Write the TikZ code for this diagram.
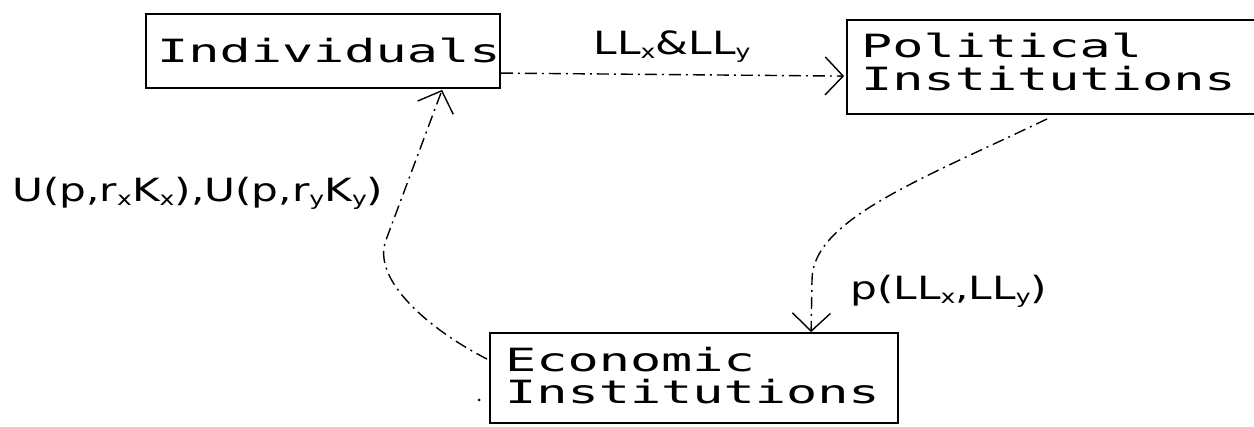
\documentclass[tikz,border=0pt]{standalone}
\usepackage{fontspec}
\usetikzlibrary{arrows.meta,calc}
\newfontfamily\boxfont[FakeStretch=1.62]{DejaVu Sans Mono}
\newfontfamily\labfont[FakeStretch=1.32]{DejaVu Sans}
\newcommand\lsub[1]{\raisebox{-4pt}{\fontsize{19}{19}\selectfont #1}}
\begin{document}
\begin{tikzpicture}[x=1pt,y=-1pt,
  box/.style={draw, line width=1.8pt, inner sep=0pt},
  boxtext/.style={anchor=base west, inner sep=0pt, font={\boxfont\fontsize{32}{32}\selectfont}},
  labtext/.style={anchor=base west, inner sep=0pt, font={\labfont\fontsize{32}{32}\selectfont}},
  link/.style={line width=1.4pt, dash pattern=on 12pt off 5pt on 2pt off 5pt,
    -{Straight Barb[length=18pt,width=38pt,line width=1.4pt]}}]
\fill[white] (0,0) rectangle (1254,427);
\useasboundingbox (0,0) rectangle (1254,427);

\node[box, minimum width=354pt, minimum height=74pt] (ind) at (323,51) {};
\node[box, minimum width=415pt, minimum height=94pt] (pol) at (1054.5,67) {};
\node[box, minimum width=408pt, minimum height=90pt] (eco) at (694,378) {};

\node[boxtext] (indt) at (157,63) {Individuals};
\node[boxtext] (polt1) at (861,58) {Political};
\node[boxtext] (polt2) at (861,91) {Institutions};
\node[boxtext] (ecot1) at (505,372) {Economic};
\node[boxtext] (ecot2) at (505,404) {Institutions};

\node[labtext, anchor=base] (l1) at (672,55) {LL\lsub{x}\&LL\lsub{y}};
\node[labtext] (l2) at (12,202) {U(p,r\lsub{x}K\lsub{x}),U(p,r\lsub{y}K\lsub{y})};
\node[labtext] (l3) at (850,300) {p(LL\lsub{x},LL\lsub{y})};

\coordinate (s1) at ($(ind.north east)+(0,60)$);
\coordinate (e1) at ($(pol.north west)+(-2,57)$);
\draw[link] (s1) -- (e1);

\coordinate (s2) at ($(pol.south west)+(201,4)$);
\coordinate (e2) at ($(eco.north west)+(322,0)$);
\draw[link] (s2) .. controls (920,180) and (812,220) .. (812,280) -- (e2);

\coordinate (s3) at ($(eco.north west)+(-2,27)$);
\coordinate (e3) at ($(ind.south west)+(297,1)$);
\draw[link] (s3) .. controls (430,330) and (371,280) .. (386,240) -- (e3);

\fill (479,400) circle (1.5pt);
\end{tikzpicture}
\end{document}
